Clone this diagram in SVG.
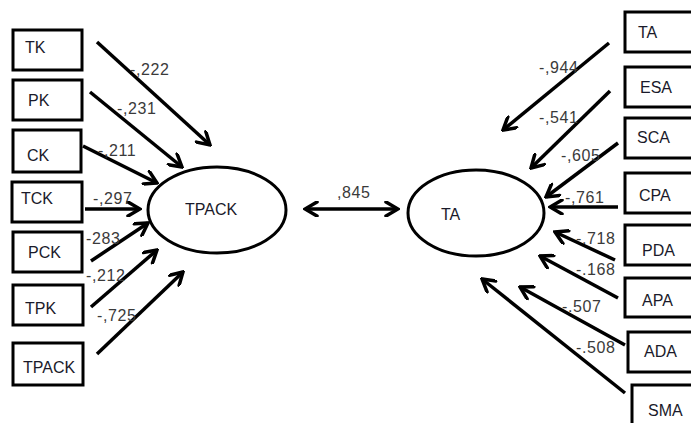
<svg xmlns="http://www.w3.org/2000/svg" width="691" height="423" viewBox="0 0 691 423">
<defs>
<marker id="ah" viewBox="0 0 16 16" markerWidth="16" markerHeight="16" refX="14" refY="8" orient="auto-start-reverse" markerUnits="userSpaceOnUse">
<path d="M2,1 L14,8 L2,15" fill="none" stroke="#000" stroke-width="3.5" stroke-linecap="round" stroke-linejoin="miter"/>
</marker>
</defs>
<style>
.box{fill:#fff;stroke:#000;stroke-width:3}
.ell{fill:#fff;stroke:#000;stroke-width:3}
.lbl{font-family:"Liberation Sans",Arial,sans-serif;font-size:16px;fill:#1a1a2a}
.num{font-family:"Liberation Sans",Arial,sans-serif;font-size:16px;letter-spacing:0.6px;fill:#3a3a3a}
.ar{stroke:#000;stroke-width:3.5;fill:none;marker-end:url(#ah)}
</style>
<rect width="691" height="423" fill="#fff"/>
<g id="connectors">
<line class="ar" x1="97" y1="42" x2="210" y2="145"/>
<line class="ar" x1="90" y1="92" x2="182" y2="167"/>
<line class="ar" x1="83" y1="146" x2="157" y2="183"/>
<line class="ar" x1="85" y1="209" x2="140" y2="209"/>
<line class="ar" x1="91" y1="261" x2="148" y2="223"/>
<line class="ar" x1="91" y1="307" x2="157" y2="250"/>
<line class="ar" x1="97" y1="354" x2="183" y2="272"/>
<line class="ar" x1="305" y1="209" x2="398" y2="209" marker-start="url(#ah)"/>
<line class="ar" x1="609" y1="43" x2="503" y2="130"/>
<line class="ar" x1="610" y1="91" x2="531" y2="168"/>
<line class="ar" x1="618" y1="143" x2="546" y2="197"/>
<line class="ar" x1="618" y1="207" x2="550" y2="207"/>
<line class="ar" x1="615" y1="260" x2="555" y2="232"/>
<line class="ar" x1="618" y1="298" x2="540" y2="256"/>
<line class="ar" x1="625" y1="345" x2="520" y2="287"/>
<line class="ar" x1="625" y1="393" x2="482" y2="279"/>
<text class="num" x="130" y="75">-,222</text>
<text class="num" x="117" y="114">-,231</text>
<text class="num" x="98" y="156">-,211</text>
<text class="num" x="93" y="204">-,297</text>
<text class="num" x="86" y="244">-283</text>
<text class="num" x="86" y="281">-,212</text>
<text class="num" x="97" y="321">-,725</text>
<text class="num" x="337" y="198">,845</text>
<text class="num" x="539" y="73">-,944</text>
<text class="num" x="539" y="123">-,541</text>
<text class="num" x="561" y="161">-,605</text>
<text class="num" x="565" y="203">-,761</text>
<text class="num" x="576" y="244">-.718</text>
<text class="num" x="576" y="275">-.168</text>
<text class="num" x="562" y="312">-.507</text>
<text class="num" x="576" y="353">-.508</text>
</g>
<g id="TK"><rect class="box" x="13" y="30" width="69" height="40"/><text class="lbl" x="25" y="53">TK</text></g>
<g id="PK"><rect class="box" x="13" y="80" width="69" height="40"/><text class="lbl" x="28" y="106">PK</text></g>
<g id="CK"><rect class="box" x="13" y="130" width="68" height="42"/><text class="lbl" x="27" y="161">CK</text></g>
<g id="TCK"><rect class="box" x="12" y="182" width="70" height="40"/><text class="lbl" x="21" y="204">TCK</text></g>
<g id="PCK"><rect class="box" x="13" y="232" width="69" height="40"/><text class="lbl" x="28" y="258">PCK</text></g>
<g id="TPK"><rect class="box" x="13" y="285" width="70" height="40"/><text class="lbl" x="25" y="314">TPK</text></g>
<g id="TPACK_box"><rect class="box" x="13" y="343" width="70" height="42"/><text class="lbl" x="23" y="373">TPACK</text></g>
<g id="TPACK"><ellipse class="ell" cx="217" cy="210" rx="69" ry="43"/><text class="lbl" x="185" y="215">TPACK</text></g>
<g id="TA"><ellipse class="ell" cx="476" cy="213" rx="68" ry="43"/><text class="lbl" x="441" y="220">TA</text></g>
<g id="TA_box"><rect class="box" x="625" y="12" width="70" height="40"/><text class="lbl" x="638" y="38">TA</text></g>
<g id="ESA"><rect class="box" x="625" y="67" width="70" height="40"/><text class="lbl" x="640" y="93">ESA</text></g>
<g id="SCA"><rect class="box" x="625" y="118" width="70" height="40"/><text class="lbl" x="637" y="143">SCA</text></g>
<g id="CPA"><rect class="box" x="625" y="173" width="70" height="40"/><text class="lbl" x="639" y="201">CPA</text></g>
<g id="PDA"><rect class="box" x="625" y="225" width="70" height="40"/><text class="lbl" x="642" y="256">PDA</text></g>
<g id="APA"><rect class="box" x="625" y="278" width="70" height="39"/><text class="lbl" x="642" y="306">APA</text></g>
<g id="ADA"><rect class="box" x="628" y="332" width="70" height="40"/><text class="lbl" x="644" y="357">ADA</text></g>
<g id="SMA"><rect class="box" x="632" y="385" width="70" height="45"/><text class="lbl" x="648" y="416">SMA</text></g>
</svg>
